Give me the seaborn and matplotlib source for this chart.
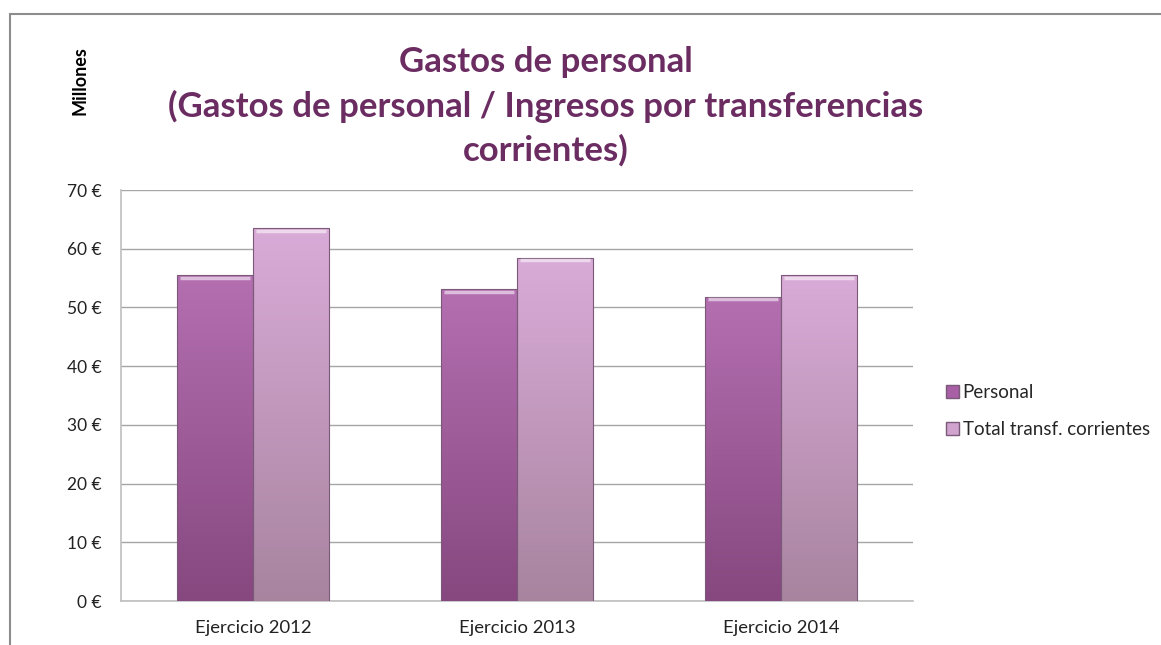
import matplotlib
matplotlib.use("Agg")
import matplotlib.pyplot as plt
import matplotlib.colors as mcolors
import numpy as np
import pandas as pd
import seaborn as sns

categories = ["Ejercicio 2012", "Ejercicio 2013", "Ejercicio 2014"]
series_names = ["Personal", "Total transf. corrientes"]
personal = [55.5, 53.1, 51.8]
total_transf = [63.5, 58.4, 55.5]
yticks = [0, 10, 20, 30, 40, 50, 60, 70]
ytick_labels = ["0 €", "10 €", "20 €", "30 €", "40 €", "50 €", "60 €", "70 €"]

df = pd.DataFrame({
    "Ejercicio": categories * 2,
    "Serie": [series_names[0]] * 3 + [series_names[1]] * 3,
    "Valor": personal + total_transf,
})

sns.set_theme(style="white")
plt.rcParams['font.family'] = ['Lato', 'DejaVu Sans']

fig = plt.figure(figsize=(11.61, 6.45), dpi=100)
ax = fig.add_axes([0.1042, 0.0682, 0.6822, 0.6372])

top_cols = {"Personal": "#b46fb1", "Total transf. corrientes": "#d9abd8"}
bot_cols = {"Personal": "#86487f", "Total transf. corrientes": "#a8849f"}
palette = {"Personal": "#a85fa5", "Total transf. corrientes": "#d1a3cf"}

sns.barplot(data=df, x="Ejercicio", y="Valor", hue="Serie", palette=palette,
            width=0.576, ax=ax, legend=True, zorder=3)

ax.set_ylim(0, 70)
ax.set_xlim(-0.5, 2.5)
ax.set_yticks(yticks)
ax.set_yticklabels(ytick_labels, fontsize=12.5, color="#222222")
ax.tick_params(axis="x", labelsize=13.3, colors="#222222", pad=14, length=0)
ax.tick_params(axis="y", pad=14, length=0)
ax.set_xlabel("")
ax.set_ylabel("")
ax.yaxis.grid(True, color="#a6a6a6", linewidth=1.0, zorder=0)
ax.set_axisbelow(True)
for s in ["top", "right"]:
    ax.spines[s].set_visible(False)
for s in ["left", "bottom"]:
    ax.spines[s].set_color("#bfbfbf")
    ax.spines[s].set_linewidth(1.2)

# gradient fill on bars
hue_order = series_names
n = len(categories)
for i, patch in enumerate(ax.patches[:2 * n]):
    serie = hue_order[i // n]
    x0, y0 = patch.get_x(), patch.get_y()
    w, h = patch.get_width(), patch.get_height()
    cmap = mcolors.LinearSegmentedColormap.from_list(
        "g", [bot_cols[serie], top_cols[serie]])
    grad = np.linspace(0, 1, 256).reshape(-1, 1)
    im = ax.imshow(grad, extent=[x0, x0 + w, y0, y0 + h], origin="lower",
                   aspect="auto", cmap=cmap, zorder=4)
    im.set_clip_path(patch)
    patch.set_facecolor("none")
    patch.set_edgecolor("#7a5a78")
    patch.set_linewidth(0.8)
    patch.set_zorder(5)
    # bevel highlight at top
    ax.plot([x0 + w * 0.04, x0 + w * 0.96], [y0 + h - 0.4, y0 + h - 0.4],
            color="white", alpha=0.55, linewidth=2.5, zorder=6,
            solid_capstyle="butt")

handles, labels = ax.get_legend_handles_labels()
leg = ax.legend(handles, labels, loc="center left", bbox_to_anchor=(1.02, 0.462),
                frameon=False, fontsize=13.5, handlelength=0.7, handleheight=0.7,
                handletextpad=0.2, labelspacing=1.05)
for hdl, serie in zip(leg.legend_handles, series_names):
    hdl.set_facecolor(palette[serie])
    hdl.set_edgecolor("#7a5a78")

fig.text(0.4703, 0.928,
         "Gastos de personal\n(Gastos de personal / Ingresos por transferencias\ncorrientes)",
         ha="center", va="top", fontsize=25, fontweight="bold", color="#6b2c62",
         linespacing=1.42)

fig.text(0.069, 0.875, "Millones", rotation=90, fontsize=13, fontweight="bold",
         color="black", ha="center", va="center")

# outer frame lines (top and left)
fig.add_artist(plt.Line2D([10 / 1161, 1.0], [1 - 14 / 645, 1 - 14 / 645],
                          transform=fig.transFigure, color="#8c8c8c", linewidth=1.5))
fig.add_artist(plt.Line2D([10 / 1161, 10 / 1161], [0, 1 - 14 / 645],
                          transform=fig.transFigure, color="#8c8c8c", linewidth=1.5))

fig.savefig("out.png", dpi=100, facecolor="white")
